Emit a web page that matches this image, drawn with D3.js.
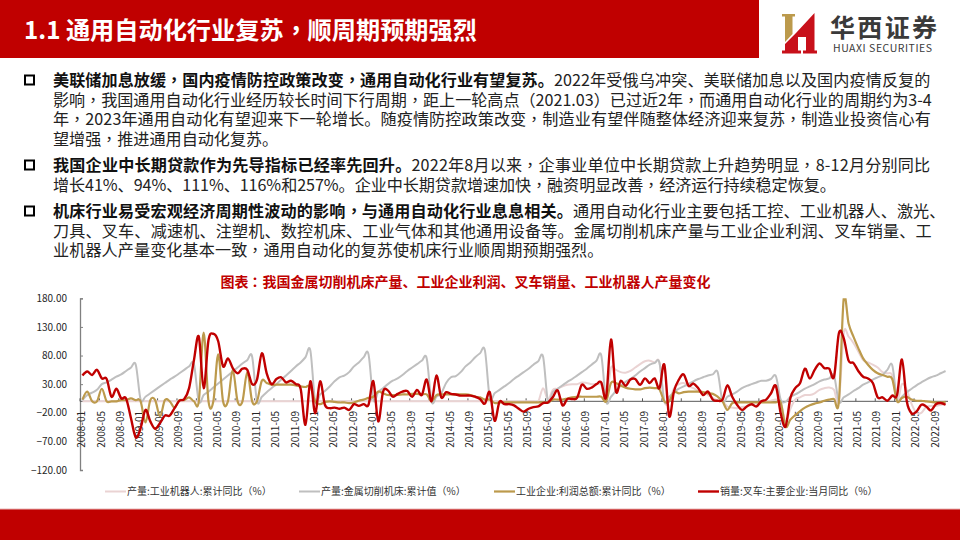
<!DOCTYPE html>
<html>
<head>
<meta charset="utf-8">
<script src="https://cdn.jsdelivr.net/npm/d3@7"></script>
<style>
  /* reference font centres the full-width comma and colon, TC cut does too */
  @font-face { font-family: "CenterPunct"; src: local("Noto Sans CJK TC"), local("Noto Sans CJK TC Regular"); font-weight: 400; unicode-range: U+FF0C, U+FF1A; }
  @font-face { font-family: "CenterPunct"; src: local("Noto Sans CJK TC Bold"); font-weight: 700; unicode-range: U+FF0C, U+FF1A; }
  html, body { margin: 0; padding: 0; background: #fff; }
  svg { display: block; }
  text { font-family: "CenterPunct", "Noto Sans CJK SC", sans-serif; }
</style>
</head>
<body>
<div id="slide"></div>
<script>
var width = 960, height = 540;

// slide text
var titleText = "1.1 通用自动化行业复苏，顺周期预期强烈";
var chartTitle = "图表：我国金属切削机床产量、工业企业利润、叉车销量、工业机器人产量变化";
var boldLead = [
  "美联储加息放缓，国内疫情防控政策改变，通用自动化行业有望复苏。",
  "我国企业中长期贷款作为先导指标已经率先回升。",
  "机床行业易受宏观经济周期性波动的影响，与通用自动化行业息息相关。"
];
var bodyLead = [
  "2022年受俄乌冲突、美联储加息以及国内疫情反复的",
  "2022年8月以来，企事业单位中长期贷款上升趋势明显，8-12月分别同比",
  "通用自动化行业主要包括工控、工业机器人、激光、"
];
var bodyRest = [
  ["影响，我国通用自动化行业经历较长时间下行周期，距上一轮高点（2021.03）已过近2年，而通用自动化行业的周期约为3-4",
   "年，2023年通用自动化有望迎来下一轮增长。随疫情防控政策改变，制造业有望伴随整体经济迎来复苏，制造业投资信心有",
   "望增强，推进通用自动化复苏。"],
  ["增长41%、94%、111%、116%和257%。企业中长期贷款增速加快，融资明显改善，经济运行持续稳定恢复。"],
  ["刀具、叉车、减速机、注塑机、数控机床、工业气体和其他通用设备等。金属切削机床产量与工业企业利润、叉车销量、工",
   "业机器人产量变化基本一致，通用自动化的复苏使机床行业顺周期预期强烈。"]
];

// chart data, monthly 2008-01 .. 2022-11
var months = d3.range(2008, 2023).flatMap(function(y) {
  return d3.range(1, 13).map(function(m) { return y + "-" + (m < 10 ? "0" + m : m); });
}).slice(0, 179);
var tickLabels = months.filter(function(d, i) { return i % 4 == 0; });
var yTicks = [180, 130, 80, 30, -20, -70, -120];
var seriesNames = ["产量:工业机器人:累计同比（%）", "产量:金属切削机床:累计值（%）", "工业企业:利润总额:累计同比（%）", "销量:叉车:主要企业:当月同比（%）"];
var seriesColors = ["#EAD3D3", "#BFBFBF", "#BC9A4C", "#C00000"];
var seriesWidths = [2, 2, 2.2, 2.4];

var robot = [0,0,0,0,0,0,0,0,0,0,0,0,
  0,0,0,0,0,0,0,0,0,0,0,0,
  0,0,0,0,0,0,0,0,0,0,0,0,
  0,0,0,0,0,0,0,0,0,0,0,0,
  0,0,0,0,0,0,0,0,0,0,0,0,
  0,0,0,0,0,0,0,0,0,0,0,0,
  0,0,0,0,0,0,0,0,0,0,0,0,
  0,0,0,0,0,0,0,0,0,0,0,23,
  3,20,22,26,29,30,30,33,32,30,30,29,
  3,58,55,51,50,53,59,65,70,71,68,68,
  0,0,23,30,32,26,23,18,16,11,6,1,
  0,-9,-11,-12,-10,-9,-6,-7,-1,-1,1,3,
  -1,-35,-13,3,7,11,11,14,20,23,24,20,
  0,119,113,102,87,72,68,64,59,51,49,45,
  0,30,20,-5,-20,-20,-10,-8,-8,-6,-5];
var machine = [2,11,15,20,30,33,38,43,47,53,59,64,
  3,8,14,20,26,32,38,43,49,55,61,65,
  0,11,17,24,31,38,45,52,59,66,72,78,
  0,8,16,23,30,38,45,53,61,68,77,89,
  0,12,18,26,35,42,45,51,61,68,77,82,
  3,16,23,30,36,40,46,53,59,65,71,75,
  0,8,14,32,42,44,51,61,68,77,84,89,
  6,14,20,26,32,39,45,51,57,64,70,78,
  0,16,22,28,34,39,45,51,57,64,71,80,
  0,8,18,27,34,39,45,52,58,64,67,67,
  0,8,16,22,26,30,35,39,42,45,47,51,
  0,8,12,17,23,27,30,33,36,36,39,44,
  3,-1,8,12,17,22,26,30,35,38,40,45,
  -1,7,12,18,23,29,33,38,42,46,55,63,
  3,8,16,22,28,33,38,42,45,49,53];
var profit = [3,17,0,0,22,0,0,0,2,2,5,2,
  0,-37,2,2,-26,2,0,-11,2,2,7,0,
  0,120,0,0,82,0,0,55,0,0,51,0,
  0,36,32,29,29,29,29,29,28,26,25,26,
  0,-5,-1,0,-1,-2,-2,-3,-2,1,3,6,
  8,17,14,11,11,11,12,12,13,13,12,12,
  0,11,12,12,12,12,12,12,11,8,7,3,
  3,-3,-2,-2,-2,-2,-2,-2,-2,-2,-2,-2,
  -2,3,3,3,5,7,8,8,8,8,8,8,
  0,32,32,27,24,22,21,21,23,24,23,21,
  0,0,16,14,16,17,17,17,16,14,13,8,
  0,-15,-3,-2,-2,-2,-2,-2,-2,-2,-2,-2,
  -2,-44,-32,-24,-17,-11,-7,-4,-2,1,3,4,
  0,180,136,113,93,75,64,55,49,46,43,39,
  0,6,8,3,1,1,0,-1,-2,-2,-1];
var forklift = [45,52,46,55,40,39,8,22,5,5,-29,-63,
  -47,-15,-35,-48,-38,-25,-25,-12,1,4,23,72,
  113,23,107,118,105,61,75,58,49,57,55,30,
  38,84,49,30,39,42,33,36,30,22,-41,35,
  -21,35,-6,-12,-11,-13,-11,-15,-5,-8,-5,-6,
  35,-35,17,19,8,13,17,18,8,20,11,38,
  0,45,7,16,13,12,10,10,10,8,4,-4,
  16,-34,-1,-5,-5,-7,-13,-18,-13,-10,-9,-3,
  -2,7,19,-7,4,4,6,29,22,24,30,33,
  7,108,18,36,27,38,39,29,40,32,40,23,
  64,-26,18,38,47,27,31,23,11,17,3,1,
  3,28,8,-6,-15,-9,-5,-9,0,3,14,27,
  -21,-44,6,23,32,57,40,55,66,58,57,43,
  119,110,71,67,53,43,40,32,7,7,1,10,
  11,73,0,-21,-18,-6,-9,-16,-5,-3,-6];
var seriesValues = [robot, machine, profit, forklift];

var svg = d3.select("#slide").append("svg")
  .attr("width", width)
  .attr("height", height);

// header and footer bands
svg.append("rect").attr("x", 0).attr("y", 0).attr("width", 759).attr("height", 58).attr("fill", "#C00000");
svg.append("rect").attr("x", 0).attr("y", 509).attr("width", width).attr("height", 31).attr("fill", "#C00000");
svg.append("rect").attr("x", 0).attr("y", 508.5).attr("width", width).attr("height", 1).attr("fill", "#E8B5B5");

svg.append("text").attr("x", 24).attr("y", 39)
  .attr("fill", "#fff").attr("font-size", 24.2).attr("font-weight", 700)
  .text(titleText);

// logo
svg.append("path").attr("fill", "#BC9A4C")
  .attr("d", "M782,14H795V16.5H792.5V34L785,42V16.5H782Z");
svg.append("path").attr("fill", "#C8101A")
  .attr("d", "M785,44L796,33L814.5,13V50.5H817V53.5H803V50.5H806V37H798V50.5H801V53.5H782V50.5H785Z");
svg.append("text").attr("x", 830).attr("y", 37)
  .attr("fill", "#3a3a3a").attr("font-size", 25).attr("font-weight", 700)
  .attr("textLength", 107)
  .text("华西证券");
svg.append("text").attr("x", 833).attr("y", 52)
  .attr("fill", "#3a3a3a").attr("font-size", 10.5).attr("font-family", "Open Sans").attr("textLength", 99)
  .text("HUAXI SECURITIES");

// bullet paragraphs, tracking nudged per line to land on the reference's line ends
var lineStep = 19.6;
var bulletTops = [86, 171, 217];
var bodySize = 16.1;
var boldTrack = [0.07, 0.2, 0.16];
var leadTrack = [0.12, 0.21, 0.1];
var restTrack = [[0, 0.1, 0], [-0.05], [0.18, 0.1]];
bulletTops.forEach(function(y0, i) {
  svg.append("rect").attr("x", 25).attr("y", y0 - 10.5).attr("width", 9).attr("height", 9)
    .attr("fill", "#fff").attr("stroke", "#000").attr("stroke-width", 2);
  var first = svg.append("text").attr("x", 53).attr("y", y0).attr("font-size", bodySize);
  first.append("tspan").attr("font-weight", 700).attr("fill", "#111")
    .attr("letter-spacing", boldTrack[i]).text(boldLead[i]);
  first.append("tspan").attr("fill", "#222")
    .attr("letter-spacing", leadTrack[i]).text(bodyLead[i]);
  bodyRest[i].forEach(function(line, j) {
    svg.append("text").attr("x", 53).attr("y", y0 + lineStep * (j + 1))
      .attr("font-size", bodySize).attr("fill", "#222")
      .attr("letter-spacing", restTrack[i][j]).text(line);
  });
});

svg.append("text").attr("x", 465.5).attr("y", 287)
  .attr("text-anchor", "middle").attr("fill", "#C00000")
  .attr("font-size", 14).attr("font-weight", 700)
  .text(chartTitle);

// scales
var x = d3.scaleBand().domain(months).range([80, 948]);
var y = d3.scaleLinear().domain([-120, 180]).range([470, 298.3]);

// y axis, ticks inward
var yAxis = svg.append("g")
  .attr("transform", "translate(80,0)")
  .call(d3.axisLeft(y).tickValues(yTicks).tickFormat(d3.format(".2f")).tickSize(-3).tickPadding(13));
yAxis.select(".domain").attr("stroke", "#808080").attr("stroke-width", 1.3);
yAxis.selectAll("line").attr("stroke", "#808080");
yAxis.selectAll("text").attr("font-size", 10).attr("fill", "#262626").attr("font-family", "Open Sans");

// x axis sits on zero, ticks on band edges, labels on band centres
var xg = svg.append("g");
xg.append("line").attr("x1", 80).attr("x2", 948).attr("y1", y(0)).attr("y2", y(0))
  .attr("stroke", "#595959").attr("stroke-width", 1);
xg.selectAll(".xt").data(tickLabels).enter().append("line")
  .attr("x1", function(d) { return x(d); })
  .attr("x2", function(d) { return x(d); })
  .attr("y1", y(0)).attr("y2", y(0) - 3)
  .attr("stroke", "#595959");
xg.selectAll(".xl").data(tickLabels).enter().append("text")
  .attr("transform", function(d) { return "translate(" + (x(d) + x.bandwidth() / 2) + ",411) rotate(-90)"; })
  .attr("text-anchor", "end")
  .attr("dominant-baseline", "middle")
  .attr("font-size", 10)
  .attr("font-family", "Open Sans")
  .attr("fill", "#262626")
  .text(function(d) { return d; });

// lines, clipped at the top of the value axis like the reference
svg.append("clipPath").attr("id", "plot")
  .append("rect").attr("x", 80).attr("y", y(180)).attr("width", 870).attr("height", y(-120) - y(180));

var line = d3.line()
  .x(function(d, i) { return x(months[i]) + x.bandwidth() / 2; })
  .y(function(d) { return y(d); })
  .curve(d3.curveCatmullRom.alpha(0));

svg.append("g").attr("clip-path", "url(#plot)")
  .selectAll(".series").data(seriesValues).enter().append("path")
  .attr("class", "series")
  .attr("fill", "none")
  .attr("stroke", function(d, i) { return seriesColors[i]; })
  .attr("stroke-width", function(d, i) { return seriesWidths[i]; })
  .attr("stroke-linejoin", "round")
  .attr("d", line);

// legend
var legendSwatch = [105, 299, 494, 698];
var legend = svg.selectAll(".legend").data(seriesNames).enter().append("g")
  .attr("class", "legend")
  .attr("transform", function(d, i) { return "translate(" + legendSwatch[i] + ",491.5)"; });
legend.append("line").attr("x1", 0).attr("x2", 21)
  .attr("stroke", function(d, i) { return seriesColors[i]; })
  .attr("stroke-width", function(d, i) { return seriesWidths[i]; });
legend.append("text").attr("x", 22).attr("y", 3.5)
  .attr("font-size", 10).attr("fill", "#333")
  .text(function(d) { return d; });
</script>
</body>
</html>
